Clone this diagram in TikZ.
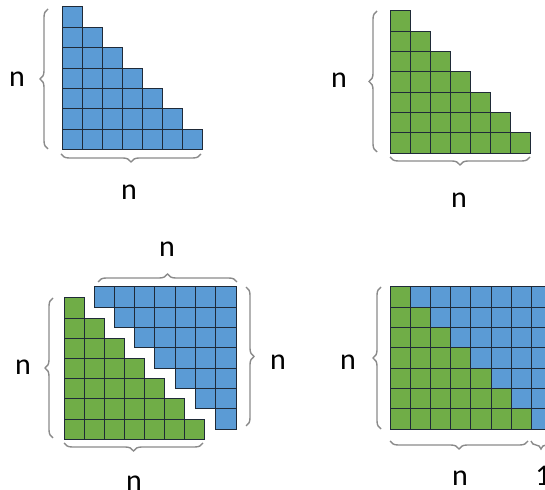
\documentclass[tikz,border=0pt]{standalone}
\usepackage{fontspec}
\setmainfont{Carlito}
\usetikzlibrary{decorations.pathreplacing}
\definecolor{cellblue}{HTML}{5B9BD5}
\definecolor{cellgreen}{HTML}{70AD47}
\definecolor{gridline}{HTML}{1F2A38}
\definecolor{bracegray}{HTML}{8A8A8A}

\begin{document}
\begin{tikzpicture}[x=0.5pt,y=-0.5pt,
  bluecell/.style={fill=cellblue,draw=gridline,line width=0.5pt},
  greencell/.style={fill=cellgreen,draw=gridline,line width=0.5pt},
  brc/.style={draw=bracegray,line width=0.7pt,decorate,decoration={brace,amplitude=4pt}},
  lbl/.style={font=\fontsize{15}{18}\selectfont,inner sep=0pt,anchor=base}]
\useasboundingbox (0,0) rectangle (545,490);
\clip (0,0) rectangle (545,490);
% top left: blue lower triangle
\begin{scope}[shift={(62,7)}]
\foreach \r in {0,...,6}
  \foreach \c in {0,...,\r}
    \draw[bluecell] (\c*20,\r*20.4) rectangle ++(20,20.4);
\end{scope}
\draw[brc] (48,149) -- (48,9);
\draw[brc] (201,154) -- (61,154);
\node[lbl] (nAleft) at (17,87) {n};
\node[lbl] (nAbottom) at (129,200) {n};
% top right: green lower triangle
\begin{scope}[shift={(390,11)}]
\foreach \r in {0,...,6}
  \foreach \c in {0,...,\r}
    \draw[greencell] (\c*20,\r*20.3) rectangle ++(20,20.3);
\end{scope}
\draw[brc] (377,152) -- (377,11);
\draw[brc] (530,157) -- (390,157);
\node[lbl] (nBleft) at (339,88) {n};
\node[lbl] (nBbottom) at (459,208) {n};
% bottom left: both triangles pulled apart
\begin{scope}[shift={(64,298)}]
\foreach \r in {0,...,6}
  \foreach \c in {0,...,\r}
    \draw[greencell] (\c*20,\r*20.2) rectangle ++(20,20.2);
\end{scope}
\begin{scope}[shift={(94,287)}]
\foreach \r in {0,...,6}
  \foreach \c in {\r,...,6}
    \draw[bluecell] (\c*20.3,\r*20.3) rectangle ++(20.3,20.3);
\end{scope}
\draw[brc] (98,282) -- (237,282);
\draw[brc] (246,287) -- (246,426);
\draw[brc] (53,438) -- (53,298);
\draw[brc] (203,443) -- (64,443);
\node[lbl] (nCtop) at (167,257) {n};
\node[lbl] (nCright) at (278,370) {n};
\node[lbl] (nCleft) at (23,375) {n};
\node[lbl] (nCbottom) at (134,491) {n};
% bottom right: the two joined into a rectangle
\begin{scope}[shift={(390,287)}]
\foreach \r in {0,...,6}
  \foreach \c in {0,...,7} {
    \ifnum\c>\r
      \draw[bluecell] (\c*20.2,\r*20.3) rectangle ++(20.2,20.3);
    \else
      \draw[greencell] (\c*20.2,\r*20.3) rectangle ++(20.2,20.3);
    \fi
  }
\end{scope}
\draw[brc] (381,429) -- (381,287);
\draw[brc] (528,441) -- (390,441);
\draw[brc] (551,441) -- (531,441);
\node[lbl] (nDleft) at (348,370) {n};
\node[lbl] (nDbottom) at (460,486) {n};
\node[lbl] (nDone) at (543,486) {1};
\end{tikzpicture}
\end{document}
